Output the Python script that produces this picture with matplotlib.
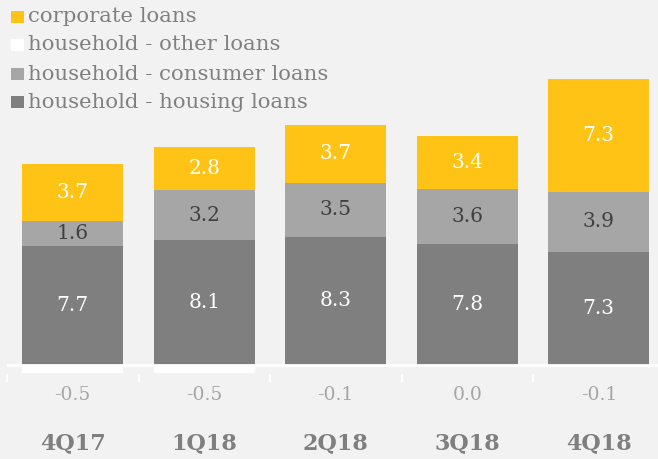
import matplotlib
matplotlib.use("Agg")
import matplotlib.pyplot as plt
from matplotlib.patches import Rectangle
import matplotlib.transforms as mtransforms

quarters = ["4Q17", "1Q18", "2Q18", "3Q18", "4Q18"]
housing = [7.7, 8.1, 8.3, 7.8, 7.3]
consumer = [1.6, 3.2, 3.5, 3.6, 3.9]
corporate = [3.7, 2.8, 3.7, 3.4, 7.3]
other = [-0.5, -0.5, -0.1, 0.0, -0.1]

BG = "#f2f2f2"
C_HOUSING = "#7f7f7f"
C_CONSUMER = "#a6a6a6"
C_CORP = "#ffc316"
C_OTHER = "#ffffff"
FONT = "DejaVu Serif"

W, H = 658, 459
fig = plt.figure(figsize=(W / 100, H / 100), dpi=100, facecolor=BG)
ymin, ymax = -0.6, 18.8
ppu = 15.46
zero_px = 365
bottom_px = zero_px - ymin * ppu
top_px = zero_px - ymax * ppu
ax = fig.add_axes([7 / W, (H - bottom_px) / H, 657.5 / W, (bottom_px - top_px) / H])
ax.set_facecolor(BG)
ax.set_xlim(-0.5, len(quarters) - 0.5)
ax.set_ylim(ymin, ymax)

x = list(range(len(quarters)))
bw = 0.77
b1 = ax.bar(x, housing, bw, color=C_HOUSING)
bot2 = housing
b2 = ax.bar(x, consumer, bw, bottom=bot2, color=C_CONSUMER)
bot3 = [h + c for h, c in zip(housing, consumer)]
b3 = ax.bar(x, corporate, bw, bottom=bot3, color=C_CORP)
b4 = ax.bar(x, other, bw, color=C_OTHER)

for i in x:
    ax.text(i, housing[i] / 2, f"{housing[i]:.1f}", ha="center", va="center",
            color="white", fontsize=14.5, family=FONT)
    ax.text(i, bot2[i] + consumer[i] / 2, f"{consumer[i]:.1f}", ha="center", va="center",
            color="#404040", fontsize=14.5, family=FONT)
    ax.text(i, bot3[i] + corporate[i] / 2, f"{corporate[i]:.1f}", ha="center", va="center",
            color="white", fontsize=14.5, family=FONT)

for s in ax.spines.values():
    s.set_visible(False)
ax.axhline(0, color="white", lw=2, zorder=3)
ax.set_yticks([])
ax.set_xticks(x)
ax.set_xticklabels([])
ax.tick_params(axis="x", which="major", length=0)
ax.set_xticks([i - 0.5 for i in range(len(quarters) + 1)], minor=True)
ax.tick_params(axis="x", which="minor", length=6, width=1.5, color="white", direction="out")

tr = mtransforms.blended_transform_factory(ax.transData, fig.transFigure)
for i in x:
    ax.text(i, 1 - 395 / H, f"{other[i]:.1f}", transform=tr, ha="center", va="center",
            color="#a6a6a6", fontsize=13.5, family=FONT)
    ax.text(i, 1 - 443 / H, quarters[i], transform=tr, ha="center", va="center",
            color="#7f7f7f", fontsize=16, fontweight="bold", family=FONT)

# legend
labels = ["corporate loans", "household - other loans", "household - consumer loans",
          "household - housing loans"]
colors = [C_CORP, C_OTHER, C_CONSUMER, C_HOUSING]
rows = [17, 45, 74, 102]
for lab, col, yc in zip(labels, colors, rows):
    fig.add_artist(Rectangle((11 / W, 1 - (yc + 6) / H), 12.5 / W, 12.5 / H,
                             transform=fig.transFigure, facecolor=col, edgecolor="none"))
    fig.text(28 / W, 1 - yc / H, lab, ha="left", va="center", color="#808080",
             fontsize=15.3, family=FONT)

fig.savefig("out.png", dpi=100, facecolor=BG)
